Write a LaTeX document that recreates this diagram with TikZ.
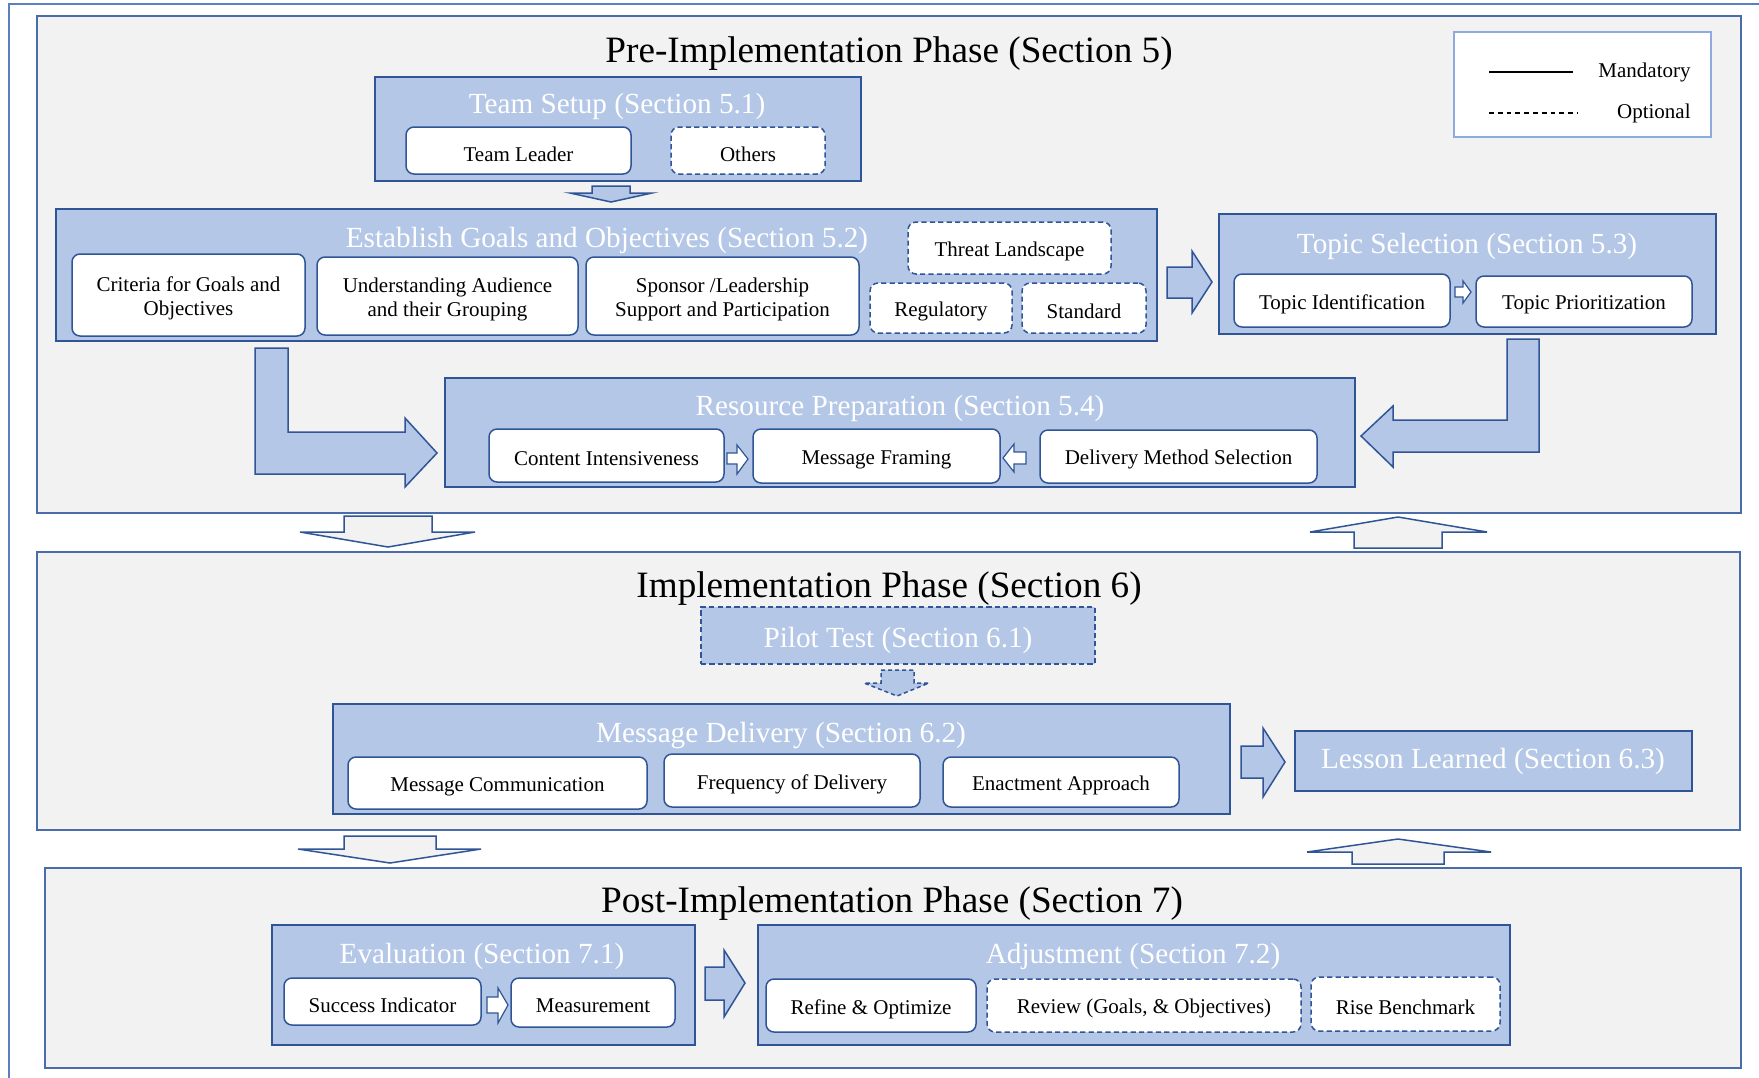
\documentclass[tikz,border=0pt]{standalone}
\usepackage{fontspec}
\setmainfont{Liberation Serif}
\usetikzlibrary{fit}
\definecolor{panelfill}{HTML}{F2F2F2}
\definecolor{panelline}{HTML}{4A6DAA}
\definecolor{boxfill}{HTML}{B4C7E7}
\definecolor{boxline}{HTML}{2F5597}
\definecolor{legendline}{HTML}{8FAADC}
\definecolor{frameline}{HTML}{5B7FBF}
% a framed box spanning two corners, with its text in a separate centred node
\newcommand{\mkitem}[7]{%
  \node[#1, fit={(#3,#4)(#5,#6)}] (#2) {};
  \node[itemtext] (#2-t) at (#2.center) {#7};}
\begin{document}
\begin{tikzpicture}[x=0.5pt,y=-0.5pt,
  panel/.style={draw=panelline, fill=panelfill, line width=0.9pt},
  blockbox/.style={draw=boxline, fill=boxfill, line width=0.75pt, inner sep=0pt},
  optblock/.style={blockbox, dash pattern=on 2.6pt off 1.6pt},
  item/.style={draw=boxline, fill=white, rounded corners=4pt, line width=0.75pt, inner sep=0pt},
  optitem/.style={item, dash pattern=on 2.6pt off 1.6pt},
  itemtext/.style={inner sep=0pt, align=center, yshift=-1.7pt, font=\fontsize{10.5}{12}\selectfont},
  boxtitle/.style={text=white, anchor=base, inner sep=0pt, font=\fontsize{14.6}{16}\selectfont},
  phasetitle/.style={anchor=base, inner sep=0pt, font=\fontsize{18.6}{20}\selectfont},
  bigarrow/.style={draw=boxline, fill=boxfill, line width=0.75pt, line join=miter},
  optarrow/.style={bigarrow, dash pattern=on 2pt off 1.5pt},
  flowarrow/.style={draw=boxline, fill=panelfill, line width=0.75pt, line join=miter},
  tinyarrow/.style={draw=boxline, fill=white, line width=0.6pt, line join=miter},
  legtext/.style={anchor=east, inner sep=0pt, font=\fontsize{10.5}{12}\selectfont}]
\useasboundingbox (0,0) rectangle (1759,1077);
\fill[white] (0,0) rectangle (1759,1077);
% outer frame
\draw[frameline, line width=0.8pt] (9,1100) -- (9,4) -- (1780,4);

% ---------------- phase panels ----------------
\draw[panel] (37,16) rectangle (1741,513);
\draw[panel] (37,552) rectangle (1740,830);
\draw[panel] (45,868) rectangle (1741,1068);

\node[phasetitle] (preT) at (889,62) {Pre-Implementation Phase (Section 5)};
\node[phasetitle] (impT) at (889,597) {Implementation Phase (Section 6)};
\node[phasetitle] (postT) at (892,912) {Post-Implementation Phase (Section 7)};

% ---------------- legend ----------------
\node[draw=legendline, fill=white, line width=0.75pt, inner sep=0pt, fit={(1454,32)(1711,137)}] (legend) {};
\coordinate (manA) at (1489,72);
\coordinate (manB) at (1573,72);
\coordinate (optA) at (1489,113);
\coordinate (optB) at (1578,113);
\draw[line width=0.6pt] (manA) -- (manB);
\draw[line width=0.6pt, dash pattern=on 2.4pt off 2pt] (optA) -- (optB);
\node[legtext] (manT) at (1691,72) {Mandatory};
\node[legtext] (optT) at (1691,113) {Optional};

% ---------------- pre-implementation ----------------
\node[blockbox, fit={(375,77)(861,181)}] (team) {};
\node[boxtitle] (teamT) at (617,113) {Team Setup (Section 5.1)};
\mkitem{item}{leader}{406}{127}{631}{174}{Team Leader}
\mkitem{optitem}{others}{671}{127}{825}{174}{Others}

\draw[bigarrow] (592,186) -- (630,186) -- (630,193) -- (652,193) -- (611,202)
  -- (570,193) -- (592,193) -- cycle;

\node[blockbox, fit={(56,209)(1157,341)}] (goals) {};
\node[boxtitle] (goalsT) at (607,247) {Establish Goals and Objectives (Section 5.2)};
\mkitem{item}{criteria}{72}{254}{305}{336}{Criteria for Goals and\\Objectives}
\mkitem{item}{audience}{317}{257}{578}{335}{Understanding Audience\\and their Grouping}
\mkitem{item}{sponsor}{586}{257}{859}{335}{Sponsor /Leadership\\Support and Participation}
\mkitem{optitem}{threat}{908}{222}{1111}{274}{Threat Landscape}
\mkitem{optitem}{regul}{870}{283}{1012}{333}{Regulatory}
\mkitem{optitem}{stand}{1022}{283}{1146}{333}{Standard}

\draw[bigarrow] (1167,267) -- (1192,267) -- (1192,251) -- (1212,282) -- (1192,313)
  -- (1192,298) -- (1167,298) -- cycle;

\node[blockbox, fit={(1219,214)(1716,334)}] (topic) {};
\node[boxtitle] (topicT) at (1467,253) {Topic Selection (Section 5.3)};
\mkitem{item}{topicid}{1234}{274}{1450}{327}{Topic Identification}
\mkitem{item}{topicpr}{1476}{276}{1692}{327}{Topic Prioritization}
\draw[tinyarrow] (1455,287) -- (1463,287) -- (1463,281) -- (1471,292) -- (1463,303)
  -- (1463,297) -- (1455,297) -- cycle;

% L-shaped arrows into resource preparation
\draw[bigarrow] (255,348) -- (288,348) -- (288,432) -- (405,432) -- (405,418)
  -- (437,453) -- (405,487) -- (405,474) -- (255,474) -- cycle;
\draw[bigarrow] (1507,339) -- (1539,339) -- (1539,452) -- (1393,452) -- (1393,467)
  -- (1361,436) -- (1393,406) -- (1393,420) -- (1507,420) -- cycle;

\node[blockbox, fit={(445,378)(1355,487)}] (resource) {};
\node[boxtitle] (resourceT) at (900,415) {Resource Preparation (Section 5.4)};
\mkitem{item}{content}{489}{429}{724}{482}{Content Intensiveness}
\mkitem{item}{framing}{753}{429}{1000}{483}{Message Framing}
\mkitem{item}{method}{1040}{430}{1317}{483}{Delivery Method Selection}
\draw[tinyarrow] (727,453) -- (737,453) -- (737,445) -- (748,459) -- (737,474)
  -- (737,464) -- (727,464) -- cycle;
\draw[tinyarrow] (1026,452) -- (1014,452) -- (1014,444) -- (1003,458) -- (1014,472)
  -- (1014,464) -- (1026,464) -- cycle;

% ---------------- between phases ----------------
\draw[flowarrow] (344,516) -- (432,516) -- (432,532) -- (475,532) -- (388,547)
  -- (300,532) -- (344,532) -- cycle;
\draw[flowarrow] (1354,548) -- (1442,548) -- (1442,532) -- (1487,532) -- (1398,517)
  -- (1310,532) -- (1354,532) -- cycle;
\draw[flowarrow] (344,836) -- (436,836) -- (436,849) -- (481,849) -- (390,863)
  -- (298,849) -- (344,849) -- cycle;
\draw[flowarrow] (1352,864) -- (1444,864) -- (1444,852) -- (1491,852) -- (1398,839)
  -- (1307,852) -- (1352,852) -- cycle;

% ---------------- implementation ----------------
\node[optblock, fit={(701,607)(1095,664)}] (pilot) {};
\node[boxtitle] (pilotT) at (898,647) {Pilot Test (Section 6.1)};
\draw[optarrow] (881,670) -- (914,670) -- (914,683) -- (929,683) -- (897,696)
  -- (864,683) -- (881,683) -- cycle;

\node[blockbox, fit={(333,704)(1230,814)}] (delivery) {};
\node[boxtitle] (deliveryT) at (781,742) {Message Delivery (Section 6.2)};
\mkitem{item}{comm}{348}{757}{647}{809}{Message Communication}
\mkitem{item}{freq}{664}{754}{920}{807}{Frequency of Delivery}
\mkitem{item}{enact}{943}{757}{1179}{807}{Enactment Approach}

\draw[bigarrow] (1241,746) -- (1263,746) -- (1263,728) -- (1285,762) -- (1263,797)
  -- (1263,778) -- (1241,778) -- cycle;
\node[blockbox, fit={(1295,731)(1692,791)}] (lesson) {};
\node[boxtitle] (lessonT) at (1493,768) {Lesson Learned (Section 6.3)};

% ---------------- post-implementation ----------------
\node[blockbox, fit={(272,925)(695,1045)}] (eval) {};
\node[boxtitle] (evalT) at (482,963) {Evaluation (Section 7.1)};
\mkitem{item}{success}{284}{978}{481}{1025}{Success Indicator}
\mkitem{item}{measure}{511}{978}{675}{1027}{Measurement}
\draw[tinyarrow] (487,997) -- (498,997) -- (498,988) -- (508,1005) -- (498,1023)
  -- (498,1013) -- (487,1013) -- cycle;

\draw[bigarrow] (705,967) -- (724,967) -- (724,950) -- (745,983) -- (724,1017)
  -- (724,1000) -- (705,1000) -- cycle;

\node[blockbox, fit={(758,925)(1510,1045)}] (adjust) {};
\node[boxtitle] (adjustT) at (1133,963) {Adjustment (Section 7.2)};
\mkitem{item}{refine}{766}{979}{976}{1032}{Refine \& Optimize}
\mkitem{optitem}{review}{987}{979}{1301}{1032}{Review (Goals, \& Objectives)}
\mkitem{optitem}{rise}{1311}{977}{1500}{1031}{Rise Benchmark}
\end{tikzpicture}
\end{document}
